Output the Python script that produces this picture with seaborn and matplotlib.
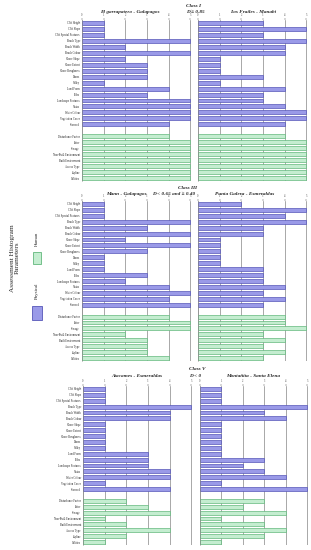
import pandas as pd
import matplotlib.pyplot as plt
import seaborn as sns
from matplotlib.patches import Rectangle

physical_params = ["Cliff Height", "Cliff Slope", "Cliff Special Features", "Beach Type",
                   "Beach Width", "Beach Colour", "Shore Slope", "Shore Extent",
                   "Shore Roughness", "Dunes", "Valley", "Land Form", "Tides",
                   "Landscape Features", "Vistas", "Water Colour", "Vegetation Cover", "Seaweed"]
human_params = ["Disturbance Factor", "Litter", "Sewage", "Non-Built Environment",
                "Built Environment", "Access Type", "Skyline", "Utilities"]

site_names = ["El garrapatero - Galapagos", "Los Frailes - Manabi",
              "Mann - Galapagos", "Punta Galera - Esmeraldas",
              "Atacames - Esmeraldas", "Montañita - Santa Elena"]

garrapatero_phys = [1, 1, 1, 5, 2, 5, 2, 3, 3, 3, 1, 4, 3, 5, 5, 5, 5, 4]
garrapatero_hum = [4, 5, 5, 5, 5, 5, 5, 5]
frailes_phys = [3, 5, 3, 5, 4, 4, 1, 1, 1, 3, 1, 4, 3, 3, 4, 5, 5, 4]
frailes_hum = [4, 5, 5, 5, 5, 5, 5, 5]
mann_phys = [1, 1, 1, 5, 3, 5, 2, 5, 3, 1, 1, 1, 3, 2, 4, 5, 4, 5]
mann_hum = [4, 5, 5, 2, 3, 3, 3, 4]
galera_phys = [2, 5, 4, 5, 3, 3, 1, 1, 1, 1, 1, 3, 3, 3, 4, 3, 4, 3]
galera_hum = [4, 4, 5, 3, 4, 3, 4, 3]
atacames_phys = [1, 1, 1, 5, 4, 4, 1, 1, 1, 1, 1, 3, 3, 3, 4, 4, 1, 4]
atacames_hum = [2, 3, 4, 1, 2, 4, 2, 1]
montanita_phys = [1, 1, 1, 5, 3, 4, 1, 1, 1, 1, 1, 1, 3, 2, 3, 4, 1, 5]
montanita_hum = [3, 2, 4, 1, 3, 4, 3, 1]

class_titles = ["Class I", "Class III", "Class V"]
class_ranges = ["D \u2265 0.85", "D < 0.65 and \u2265 0.40", "D < 0"]

site_values = [(garrapatero_phys, garrapatero_hum), (frailes_phys, frailes_hum),
               (mann_phys, mann_hum), (galera_phys, galera_hum),
               (atacames_phys, atacames_hum), (montanita_phys, montanita_hum)]

rows = []
for site, (phys, hum) in zip(site_names, site_values):
    for p, v in zip(physical_params, phys):
        rows.append({'site': site, 'param': p, 'value': v, 'type': 'Physical'})
    for p, v in zip(human_params, hum):
        rows.append({'site': site, 'param': p, 'value': v, 'type': 'Human'})
df = pd.DataFrame(rows)

order = physical_params + [" "] + human_params
face = {'Physical': '#9a9ae8', 'Human': '#c4edd0'}
edge = {'Physical': '#5656b8', 'Human': '#62b87c'}

sns.set_theme(style="white")
plt.rcParams['font.family'] = ['Liberation Serif', 'DejaVu Serif']

fig = plt.figure(figsize=(3.11, 5.5), dpi=100)
W, H = 311.0, 550.0

# axes boxes in pixels: (left, top, right, bottom)
boxes = [(82, 20, 191, 181), (198, 20, 307, 181),
         (82, 201, 191, 361), (198, 201, 307, 361),
         (83, 386, 192, 545), (200, 386, 308, 545)]

for i, site in enumerate(site_names):
    l, t, r, b = boxes[i]
    ax = fig.add_axes([l / W, 1 - b / H, (r - l) / W, (b - t) / H])
    sub = df[df['site'] == site]
    sns.barplot(data=sub, x='value', y='param', hue='type', order=order,
                hue_order=['Physical', 'Human'], palette=face, saturation=1,
                width=0.66, linewidth=0.5, orient='h', legend=False, ax=ax)
    for cont, key in zip(ax.containers, ['Physical', 'Human']):
        for bar in cont:
            bar.set_edgecolor(edge[key])
    ax.set_xlim(0, 5.03)
    ax.set_ylim(len(order) - 0.5, -0.5)
    ax.xaxis.tick_top()
    ax.set_xticks(range(6))
    ax.tick_params(axis='x', labelsize=2, length=1.5, width=0.3, pad=0.5,
                   colors='#444444', top=True)
    ax.tick_params(axis='y', labelsize=2, length=0, pad=1.5, colors='#222222')
    ax.grid(axis='x', color='#a8a8a8', linewidth=0.7)
    ax.set_axisbelow(True)
    for s in ['top', 'bottom', 'right']:
        ax.spines[s].set_visible(False)
    ax.spines['left'].set_color('#888888')
    ax.spines['left'].set_linewidth(0.4)
    ax.set_xlabel('')
    ax.set_ylabel('')
    if i % 2 == 1:
        ax.set_yticklabels([])

# titles
title_y = [(6, 12), (188, 194), (369, 376)]
class_x = [193, 187, 197]
range_x = [195, 174, 195]
site_x = [(130, 253), (126, 245), (137, 253)]
for k in range(3):
    cy, sy = title_y[k]
    fig.text(class_x[k] / W, 1 - cy / H, class_titles[k], ha='center', va='center',
             fontsize=3.8, style='italic', fontweight='bold')
    fig.text(range_x[k] / W, 1 - sy / H, class_ranges[k], ha='center', va='center',
             fontsize=3.8, style='italic', fontweight='bold')
    for j in range(2):
        fig.text(site_x[k][j] / W, 1 - sy / H, site_names[2 * k + j], ha='center',
                 va='center', fontsize=3.8, style='italic', fontweight='bold')

# left side label and legend
fig.text(15 / W, 1 - 258 / H, "Assessment Histogram\nParameters", rotation=90,
         ha='center', va='center', fontsize=5.2, linespacing=1.0)
fig.patches.append(Rectangle((32 / W, 1 - 320 / H), 10 / W, 14 / H, transform=fig.transFigure,
                             facecolor=face['Physical'], edgecolor=edge['Physical'], lw=0.6))
fig.text(37 / W, 1 - 291 / H, "Physical", rotation=90, ha='center', va='center', fontsize=3.5)
fig.patches.append(Rectangle((33 / W, 1 - 264 / H), 8 / W, 12 / H, transform=fig.transFigure,
                             facecolor=face['Human'], edgecolor=edge['Human'], lw=0.6))
fig.text(37 / W, 1 - 239 / H, "Human", rotation=90, ha='center', va='center', fontsize=3.5)

fig.savefig('out.png', dpi=100)
